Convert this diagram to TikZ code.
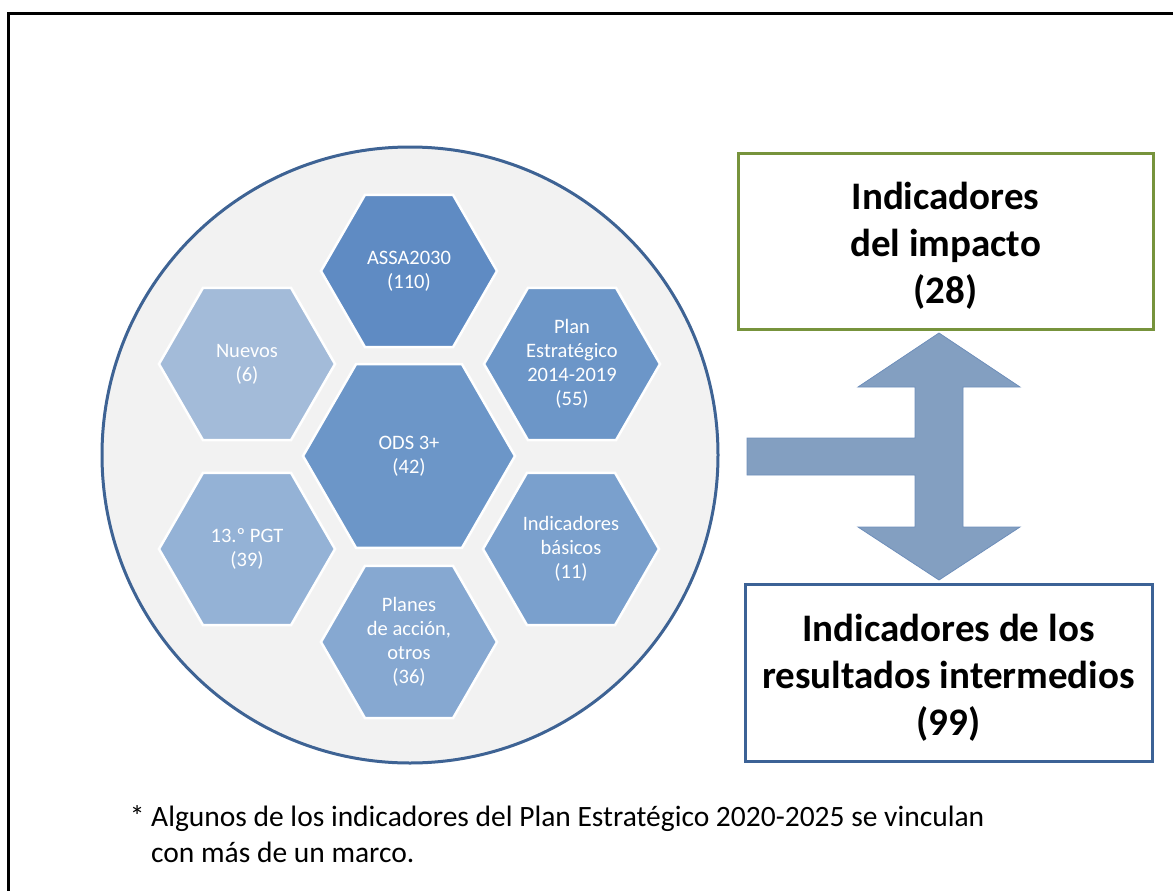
\documentclass[tikz,border=0pt]{standalone}
\usepackage{fontspec}
\setmainfont{Carlito}
\usetikzlibrary{shapes.geometric,positioning}
\definecolor{hexA}{RGB}{95,139,195}
\definecolor{hexB}{RGB}{108,150,200}
\definecolor{hexC}{RGB}{122,160,205}
\definecolor{hexD}{RGB}{134,168,209}
\definecolor{hexE}{RGB}{148,178,214}
\definecolor{hexF}{RGB}{163,187,217}
\definecolor{ringblue}{RGB}{62,99,148}
\definecolor{ringfill}{RGB}{242,242,242}
\definecolor{impgreen}{RGB}{119,147,60}
\definecolor{resblue}{RGB}{60,98,150}
\definecolor{arrowfill}{RGB}{131,159,193}
\definecolor{arrowline}{RGB}{110,142,186}
\newcommand{\topgap}{\rule{0pt}{37pt}}

\begin{document}
\begin{tikzpicture}[x=1pt,y=-1pt,on grid,
   hex/.style={regular polygon,regular polygon sides=6,minimum size=176pt,inner sep=0pt,
     draw=white,line width=2.5pt,text=white,align=center,font=\fontsize{20.5}{24}\selectfont},
   indbox/.style={draw,line width=3pt,fill=white,align=center,inner sep=0pt,
     font=\fontsize{39}{47}\selectfont\bfseries}]
   \useasboundingbox (0,0) rectangle (1173,891);
   \draw[line width=3pt] (8.5,900) |- (1180,13.5);

   \node[circle,minimum size=616pt,inner sep=0pt,fill=ringfill,draw=ringblue,line width=3pt] (marco) at (410,455) {};
   \node[hex,fill=hexB,minimum size=212pt] (ods) at (409,456) {ODS 3+\\(42)};
   \node[hex,fill=hexA] (assa) [above=185pt of ods] {ASSA2030\\(110)};
   \node[hex,fill=hexF] (nuevos) [above left=92pt and 162pt of ods] {Nuevos\\(6)};
   \node[hex,fill=hexB] (plan) [above right=92pt and 163pt of ods] {Plan\\Estratégico\\2014-2019\\(55)};
   \node[hex,fill=hexE] (pgt) [below left=93pt and 162pt of ods] {13.º PGT\\(39)};
   \node[hex,fill=hexC] (basicos) [below right=93pt and 162pt of ods] {Indicadores\\básicos\\(11)};
   \node[hex,fill=hexD] (planes) [below=186pt of ods] {Planes\\de acción,\\otros\\(36)};

   \node[indbox,draw=impgreen,minimum width=415pt,minimum height=176pt] (impacto) at (945.5,241) {\topgap Indicadores\\del impacto\\(28)};
   \node[indbox,draw=resblue,minimum width=407pt,minimum height=177pt] (resultados) at (948.5,672.5) {\topgap Indicadores de los\\resultados intermedios\\(99)};

   \coordinate (tope) at (939,333);
   \coordinate (fondo) at (939,580);
   \draw[arrowline,fill=arrowfill,line width=0.8pt] (tope) -- (1020,387) -- (963,387) -- (963,527) -- (1020,527)
     -- (fondo) -- (858,527) -- (915,527) -- (915,475) -- (747,475) -- (747,438) -- (915,438)
     -- (915,387) -- (858,387) -- cycle;

   \node[anchor=west,align=left,inner sep=0pt,font=\fontsize{29.5}{36}\selectfont] (nota) at (151,834)
     {\llap{* }Algunos de los indicadores del Plan Estratégico 2020-2025 se vinculan\\con más de un marco.};
\end{tikzpicture}
\end{document}
